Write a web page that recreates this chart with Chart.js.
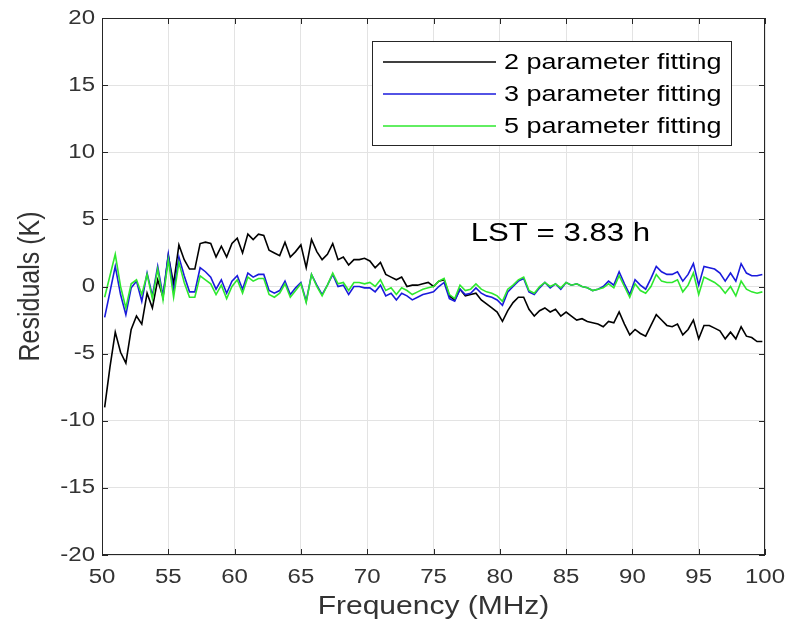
<!DOCTYPE html>
<html>
<head>
<meta charset="utf-8">
<script src="https://cdn.jsdelivr.net/npm/chart.js@4.4.1/dist/chart.umd.min.js"></script>
<style>
html,body{margin:0;padding:0;background:#fff;}
#wrap{width:791px;height:626px;}
</style>
</head>
<body>
<div id="wrap"><canvas id="c" width="791" height="626"></canvas></div>
<script>
// Frequency grid (MHz)
const freqStart = 50.2, freqStep = 0.4, nPts = 125;
const frequency = [];
for (let i = 0; i < nPts; i++) frequency.push(+(freqStart + i * freqStep).toFixed(1));

const seriesLabels = ["2 parameter fitting", "3 parameter fitting", "5 parameter fitting"];

const residual2 = [
 -9.0,-6.0,-3.4,-4.9,-5.7,-3.2,-2.2,-2.8,-0.5,-1.6,
  0.5,-0.8, 2.3, 0.2, 3.1, 2.0, 1.3, 1.3, 3.2, 3.3,
  3.2, 2.2, 3.0, 2.2, 3.2, 3.6, 2.5, 3.9, 3.5, 3.9,
  3.8, 2.7, 2.5, 2.3, 3.3, 2.2, 2.6, 3.1, 1.4, 3.5,
  2.6, 2.0, 2.4, 3.2, 2.0, 2.2, 1.6, 2.0, 2.0, 2.1,
  1.9, 1.4, 1.8, 0.9, 0.7, 0.5, 0.7, 0.0, 0.1, 0.1,
  0.2, 0.3, 0.0, 0.4, 0.5,-0.7,-1.0,-0.2,-0.7,-0.6,
 -0.5,-1.0,-1.3,-1.6,-1.9,-2.6,-1.8,-1.2,-0.8,-0.8,
 -1.7,-2.2,-1.8,-1.6,-1.9,-1.7,-2.2,-1.9,-2.2,-2.5,
 -2.4,-2.6,-2.7,-2.8,-3.0,-2.6,-2.7,-1.9,-2.8,-3.6,
 -3.2,-3.5,-3.7,-2.9,-2.1,-2.5,-2.9,-3.0,-2.8,-3.6,
 -3.2,-2.5,-3.9,-2.9,-2.9,-3.1,-3.3,-3.9,-3.4,-3.9,
 -3.0,-3.7,-3.8,-4.1,-4.1
];
const residual3 = [
 -2.3,-0.4, 1.5,-0.6,-2.1,-0.1, 0.4,-1.1, 1.0,-0.7,
  1.5,-0.7, 2.4,-0.4, 2.2, 0.8,-0.4,-0.4, 1.4, 1.1,
  0.7,-0.2, 0.5,-0.5, 0.4, 0.8,-0.2, 1.0, 0.7, 0.9,
  0.9,-0.3,-0.5,-0.3, 0.4,-0.6,-0.1, 0.3,-1.1, 0.9,
  0.1,-0.6, 0.1, 0.9, 0.0, 0.1,-0.6, 0.0, 0.0,-0.1,
 -0.1,-0.4, 0.1,-0.7,-0.5,-1.0,-0.5,-0.7,-1.0,-0.8,
 -0.6,-0.5,-0.4, 0.0, 0.3,-0.9,-1.1,-0.2,-0.6,-0.5,
 -0.1,-0.5,-0.7,-0.8,-1.0,-1.4,-0.4, 0.0, 0.4, 0.6,
 -0.4,-0.6,-0.1, 0.3,-0.1, 0.2,-0.2, 0.3, 0.1, 0.2,
  0.0,-0.1,-0.3,-0.2, 0.0, 0.4, 0.1, 1.1, 0.2,-0.6,
  0.5, 0.1,-0.2, 0.6, 1.5, 1.1, 0.9, 0.9, 1.1, 0.4,
  0.9, 1.7, 0.1, 1.5, 1.4, 1.3, 1.0, 0.4, 1.0, 0.4,
  1.7, 1.0, 0.8, 0.8, 0.9
];
const residual5 = [
 -0.8, 0.8, 2.4, 0.0,-1.6, 0.2, 0.5,-0.6, 0.9,-0.9,
  1.3,-1.0, 2.0,-0.8, 1.8, 0.3,-0.8,-0.8, 0.8, 0.5,
  0.2,-0.6, 0.1,-0.9, 0.0, 0.5,-0.5, 0.7, 0.4, 0.6,
  0.6,-0.6,-0.8,-0.5, 0.2,-0.8,-0.3, 0.2,-1.2, 0.9,
  0.0,-0.7, 0.1, 1.0, 0.2, 0.3,-0.3, 0.3, 0.3, 0.2,
  0.3, 0.0, 0.5,-0.3,-0.1,-0.6,-0.1,-0.3,-0.6,-0.4,
 -0.2,-0.1, 0.0, 0.4, 0.6,-0.6,-0.9, 0.1,-0.3,-0.2,
  0.2,-0.2,-0.4,-0.5,-0.7,-1.1,-0.2, 0.1, 0.5, 0.7,
 -0.3,-0.5, 0.0, 0.3, 0.0, 0.2,-0.1, 0.3, 0.1, 0.2,
  0.0,-0.1,-0.3,-0.2,-0.1, 0.2,-0.1, 0.8, 0.0,-0.8,
  0.2,-0.3,-0.5, 0.0, 0.9, 0.4, 0.3, 0.3, 0.5,-0.4,
  0.1, 1.0,-0.6, 0.7, 0.5, 0.3, 0.0,-0.5, 0.0,-0.7,
  0.4,-0.2,-0.4,-0.5,-0.4
];

const xTicks = [50,55,60,65,70,75,80,85,90,95,100];
const yTicks = [-20,-15,-10,-5,0,5,10,15,20];
const xTitle = "Frequency (MHz)";
const yTitle = "Residuals (K)";
const annotationText = "LST = 3.83 h";

const FONT = "'Liberation Sans', Arial, Helvetica, sans-serif";
const TXT = "#333333";
const STRETCH = 1.2; // the reference text is horizontally widened

function toXY(ys){ return ys.map((v,i)=>({x:frequency[i], y:v})); }

const colors = ["#000000", "#1a1adc", "#2ee82e"];
const allSeries = [residual2, residual3, residual5];

const datasets = allSeries.map((s,k)=>({
  label: seriesLabels[k],
  data: toXY(s),
  borderColor: colors[k],
  borderWidth: 1.6,
  pointRadius: 0,
  tension: 0,
  fill: false
}));
datasets[0].order = 3; datasets[1].order = 2; datasets[2].order = 1;

// draw text widened horizontally; align: 'left' | 'center' | 'right'
function wideText(ctx, text, x, y, size, color, align, sx){
  ctx.save();
  ctx.font = size + "px " + FONT;
  ctx.fillStyle = color;
  ctx.textBaseline = "middle";
  ctx.textAlign = align;
  ctx.translate(x, y);
  ctx.scale(sx, 1);
  ctx.fillText(text, 0, 0);
  ctx.restore();
}

const boxPlugin = {
  id: 'boxPlugin',
  afterDatasetsDraw(chart){
    const {ctx, chartArea:a, scales} = chart;
    ctx.save();
    ctx.strokeStyle = "#262626";
    ctx.lineWidth = 1;
    ctx.strokeRect(a.left+0.5, a.top+0.5, a.right-a.left-1, a.bottom-a.top-1);
    const tl = 6;
    ctx.beginPath();
    xTicks.forEach(v=>{
      const px = Math.round(scales.x.getPixelForValue(v))+0.5;
      ctx.moveTo(px, a.bottom); ctx.lineTo(px, a.bottom-tl);
      ctx.moveTo(px, a.top); ctx.lineTo(px, a.top+tl);
    });
    yTicks.forEach(v=>{
      const py = Math.round(scales.y.getPixelForValue(v))+0.5;
      ctx.moveTo(a.left, py); ctx.lineTo(a.left+tl, py);
      ctx.moveTo(a.right, py); ctx.lineTo(a.right-tl, py);
    });
    ctx.stroke();

    // tick labels
    xTicks.forEach(v=>{
      wideText(ctx, String(v), scales.x.getPixelForValue(v), a.bottom + 22, 20, TXT, "center", STRETCH);
    });
    yTicks.forEach(v=>{
      wideText(ctx, String(v), a.left - 7, scales.y.getPixelForValue(v), 20, TXT, "right", STRETCH);
    });

    // axis titles
    wideText(ctx, xTitle, (a.left + a.right)/2, 607, 25, TXT, "center", STRETCH);
    ctx.save();
    ctx.translate(31, (a.top + a.bottom)/2);
    ctx.rotate(-Math.PI/2);
    ctx.font = "25px " + FONT;
    ctx.fillStyle = TXT;
    ctx.textAlign = "center";
    ctx.textBaseline = "middle";
    ctx.scale(1, STRETCH);
    ctx.fillText(yTitle, 0, 0);
    ctx.restore();

    // annotation
    wideText(ctx, annotationText, scales.x.getPixelForValue(77.8), scales.y.getPixelForValue(3.95), 26, "#000", "left", STRETCH);

    // legend
    const lx = 372, ly = 41, lw = 359, lh = 104;
    ctx.fillStyle = "#fff";
    ctx.fillRect(lx, ly, lw, lh);
    ctx.strokeStyle = "#262626";
    ctx.lineWidth = 1;
    ctx.strokeRect(lx+0.5, ly+0.5, lw, lh);
    chart.data.datasets.forEach((ds,i)=>{
      const yy = ly + 21 + i*32;
      ctx.strokeStyle = ds.borderColor;
      ctx.lineWidth = 1.5;
      ctx.beginPath(); ctx.moveTo(383, yy); ctx.lineTo(496, yy); ctx.stroke();
      wideText(ctx, ds.label, 504, yy+1, 22.5, "#000", "left", STRETCH);
    });
    ctx.restore();
  }
};

new Chart(document.getElementById('c'), {
  type: 'line',
  data: { datasets },
  options: {
    responsive: false,
    animation: false,
    layout: { padding: { left: 0, right: 26, top: 18, bottom: 0 } },
    plugins: { legend: { display: false }, tooltip: { enabled: false } },
    scales: {
      x: {
        type: 'linear', min: 50, max: 100,
        afterBuildTicks: s => { s.ticks = xTicks.map(v=>({value:v})); },
        afterFit: s => { s.height = 71; },
        grid: { color: "#e3e3e3", lineWidth: 1, drawTicks: false },
        border: { display: false },
        ticks: { display: false }
      },
      y: {
        type: 'linear', min: -20, max: 20,
        afterBuildTicks: s => { s.ticks = yTicks.map(v=>({value:v})); },
        afterFit: s => { s.width = 102; },
        grid: { color: "#e3e3e3", lineWidth: 1, drawTicks: false },
        border: { display: false },
        ticks: { display: false }
      }
    }
  },
  plugins: [boxPlugin]
});
</script>
</body>
</html>
